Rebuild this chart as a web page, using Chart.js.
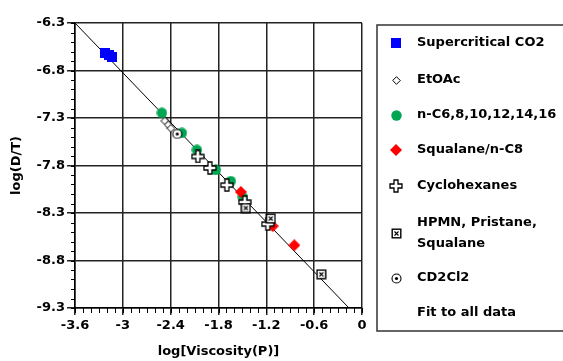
<!DOCTYPE html>
<html>
<head>
<meta charset="utf-8">
<script src="https://cdn.jsdelivr.net/npm/chart.js@4"></script>
<style>
  html, body { margin: 0; padding: 0; background: #fff; }
  #wrap { width: 563px; height: 361px; }
</style>
</head>
<body>
<div id="wrap"><canvas id="chart" width="563" height="361"></canvas></div>
<script>
// axis ticks
const xTicks = [-3.6, -3, -2.4, -1.8, -1.2, -0.6, 0];
const yTicks = [-9.3, -8.8, -8.3, -7.8, -7.3, -6.8, -6.3];

// series
const co2X = [-3.224, -3.174, -3.136];
const co2Y = [-6.613, -6.634, -6.661];
const etoacX = [-2.472, -2.431, -2.397];
const etoacY = [-7.331, -7.373, -7.408];
const alkaneX = [-2.51, -2.259, -2.071, -1.833, -1.645, -1.495];
const alkaneY = [-7.246, -7.457, -7.636, -7.847, -7.964, -8.132];
const squalaneX = [-1.52, -1.119, -0.849];
const squalaneY = [-8.078, -8.438, -8.639];
const cycloX = [-2.059, -1.908, -1.695, -1.47, -1.182];
const cycloY = [-7.705, -7.826, -8.006, -8.185, -8.417];
const hpmnX = [-1.457, -1.144, -0.511];
const hpmnY = [-8.248, -8.359, -8.945];
const cd2X = [-2.318];
const cd2Y = [-7.468];
const fitX = [-3.6, -0.175];
const fitY = [-6.3, -9.29];

const FONT = '"DejaVu Sans", Verdana, sans-serif';

function pts(xs, ys) {
  return xs.map((x, i) => ({ x: x, y: ys[i] }));
}

// small canvases used as point styles (and again in the legend)
function marker(size, draw) {
  const c = document.createElement('canvas');
  c.width = size; c.height = size;
  draw(c.getContext('2d'), size);
  return c;
}

const mSquare = marker(10, (g, s) => { g.fillStyle = '#0000ff'; g.fillRect(0, 0, s, s); });
const mOpenDiamond = marker(9, (g) => {
  g.beginPath();
  g.moveTo(4.5, 0.7); g.lineTo(8.3, 4.5); g.lineTo(4.5, 8.3); g.lineTo(0.7, 4.5); g.closePath();
  g.fillStyle = '#fff'; g.fill();
  g.strokeStyle = '#000'; g.lineWidth = 1; g.stroke();
});
const mCircle = marker(11, (g) => {
  g.beginPath(); g.arc(5.5, 5.5, 5.2, 0, Math.PI * 2);
  g.fillStyle = '#00a651'; g.fill();
});
const mRedDiamond = marker(12, (g) => {
  g.beginPath();
  g.moveTo(6, 0); g.lineTo(12, 6); g.lineTo(6, 12); g.lineTo(0, 6); g.closePath();
  g.fillStyle = '#ff0000'; g.fill();
});
const mPlus = marker(14, (g) => {
  const a = 5, b = 9, e = 1, f = 13;
  g.beginPath();
  g.moveTo(a, e); g.lineTo(b, e); g.lineTo(b, a); g.lineTo(f, a); g.lineTo(f, b);
  g.lineTo(b, b); g.lineTo(b, f); g.lineTo(a, f); g.lineTo(a, b); g.lineTo(e, b);
  g.lineTo(e, a); g.lineTo(a, a); g.closePath();
  g.fillStyle = '#fff'; g.fill();
  g.strokeStyle = '#000'; g.lineWidth = 1.3; g.stroke();
});
const mBoxX = marker(11, (g) => {
  g.fillStyle = '#fff'; g.fillRect(1, 1, 9, 9);
  g.strokeStyle = '#000'; g.lineWidth = 1.4; g.strokeRect(1.2, 1.2, 8.6, 8.6);
  g.lineWidth = 1.1;
  g.beginPath();
  g.moveTo(3.5, 3.5); g.lineTo(7.5, 7.5);
  g.moveTo(7.5, 3.5); g.lineTo(3.5, 7.5);
  g.stroke();
});
const mBullseye = marker(11, (g) => {
  g.beginPath(); g.arc(5.5, 5.5, 4.5, 0, Math.PI * 2);
  g.fillStyle = '#fff'; g.fill();
  g.strokeStyle = '#000'; g.lineWidth = 1.1; g.stroke();
  g.beginPath(); g.arc(5.5, 5.5, 1.6, 0, Math.PI * 2);
  g.fillStyle = '#000'; g.fill();
});

const legendItems = [
  { label: ['Supercritical CO2'], mark: mSquare, y: 43 },
  { label: ['EtOAc'], mark: mOpenDiamond, y: 80 },
  { label: ['n-C6,8,10,12,14,16'], mark: mCircle, y: 115 },
  { label: ['Squalane/n-C8'], mark: mRedDiamond, y: 150 },
  { label: ['Cyclohexanes'], mark: mPlus, y: 186 },
  { label: ['HPMN, Pristane,', 'Squalane'], mark: mBoxX, y: 233 },
  { label: ['CD2Cl2'], mark: mBullseye, y: 278 },
  { label: ['Fit to all data'], mark: null, y: 313 }
];

// minor ticks on both axes plus the boxed legend at the right
const extras = {
  id: 'extras',
  afterDraw(chart) {
    const ctx = chart.ctx;
    const xs = chart.scales.x, ys = chart.scales.y;
    const area = chart.chartArea;
    ctx.save();
    ctx.strokeStyle = '#000';
    ctx.lineWidth = 1;
    ctx.beginPath();
    for (let i = 0; i <= 36; i++) {
      const px = Math.round(xs.getPixelForValue(-3.6 + i * 0.1)) + 0.5;
      ctx.moveTo(px, area.bottom); ctx.lineTo(px, area.bottom + 5);
    }
    for (let i = 0; i <= 30; i++) {
      const py = Math.round(ys.getPixelForValue(-9.3 + i * 0.1)) + 0.5;
      ctx.moveTo(area.left - 4, py); ctx.lineTo(area.left, py);
    }
    ctx.stroke();

    // legend box
    ctx.strokeStyle = '#333';
    ctx.lineWidth = 1.5;
    ctx.strokeRect(377, 25, 200, 306);
    ctx.fillStyle = '#000';
    ctx.font = 'bold 13px ' + FONT;
    ctx.textBaseline = 'middle';
    ctx.textAlign = 'left';
    legendItems.forEach(it => {
      if (it.mark) {
        ctx.drawImage(it.mark, Math.round(396 - it.mark.width / 2), Math.round(it.y - it.mark.height / 2));
      }
      const n = it.label.length;
      it.label.forEach((t, k) => {
        ctx.fillText(t, 417, it.y + (k - (n - 1) / 2) * 21);
      });
    });
    ctx.restore();
  }
};

const fmt = v => String(Math.round(v * 10) / 10);

new Chart(document.getElementById('chart'), {
  type: 'scatter',
  data: {
    datasets: [
      { label: 'Fit to all data', type: 'line', data: pts(fitX, fitY), borderColor: '#000', borderWidth: 1, pointRadius: 0, fill: false, order: 10 },
      { label: 'Supercritical CO2', data: pts(co2X, co2Y), pointStyle: mSquare, pointRadius: 5, order: 7 },
      { label: 'EtOAc', data: pts(etoacX, etoacY), pointStyle: mOpenDiamond, pointRadius: 5, order: 6 },
      { label: 'n-C6,8,10,12,14,16', data: pts(alkaneX, alkaneY), pointStyle: mCircle, pointRadius: 5, order: 5 },
      { label: 'Squalane/n-C8', data: pts(squalaneX, squalaneY), pointStyle: mRedDiamond, pointRadius: 5, order: 4 },
      { label: 'Cyclohexanes', data: pts(cycloX, cycloY), pointStyle: mPlus, pointRadius: 5, order: 3 },
      { label: 'HPMN, Pristane, Squalane', data: pts(hpmnX, hpmnY), pointStyle: mBoxX, pointRadius: 5, order: 2 },
      { label: 'CD2Cl2', data: pts(cd2X, cd2Y), pointStyle: mBullseye, pointRadius: 5, order: 1 }
    ]
  },
  options: {
    responsive: false,
    animation: false,
    events: [],
    layout: { padding: { top: 23, right: 201, left: 0, bottom: 0 } },
    plugins: { legend: { display: false }, tooltip: { enabled: false } },
    scales: {
      x: {
        type: 'linear', min: -3.6, max: 0,
        afterBuildTicks: s => { s.ticks = xTicks.map(v => ({ value: v })); },
        afterFit: s => { s.height = 53; },
        grid: { color: '#222', lineWidth: 1.5, tickLength: 7 },
        border: { color: '#000', width: 1.5 },
        ticks: { color: '#000', font: { family: FONT, size: 13, weight: 'bold' }, padding: 3, maxRotation: 0, callback: fmt },
        title: { display: true, text: 'log[Viscosity(P)]', color: '#000', font: { family: FONT, size: 13, weight: 'bold' }, padding: { top: 0, bottom: 2 } }
      },
      y: {
        type: 'linear', min: -9.3, max: -6.3,
        afterBuildTicks: s => { s.ticks = yTicks.map(v => ({ value: v })); },
        afterFit: s => { s.width = 75; },
        grid: { color: '#222', lineWidth: 1.5, tickLength: 8 },
        border: { color: '#000', width: 1.5 },
        ticks: { color: '#000', font: { family: FONT, size: 13, weight: 'bold' }, padding: 2, callback: fmt },
        title: { display: true, text: 'log(D/T)', color: '#000', font: { family: FONT, size: 13, weight: 'bold' }, padding: { top: 9, bottom: 0 } }
      }
    }
  },
  plugins: [extras]
});
</script>
</body>
</html>
